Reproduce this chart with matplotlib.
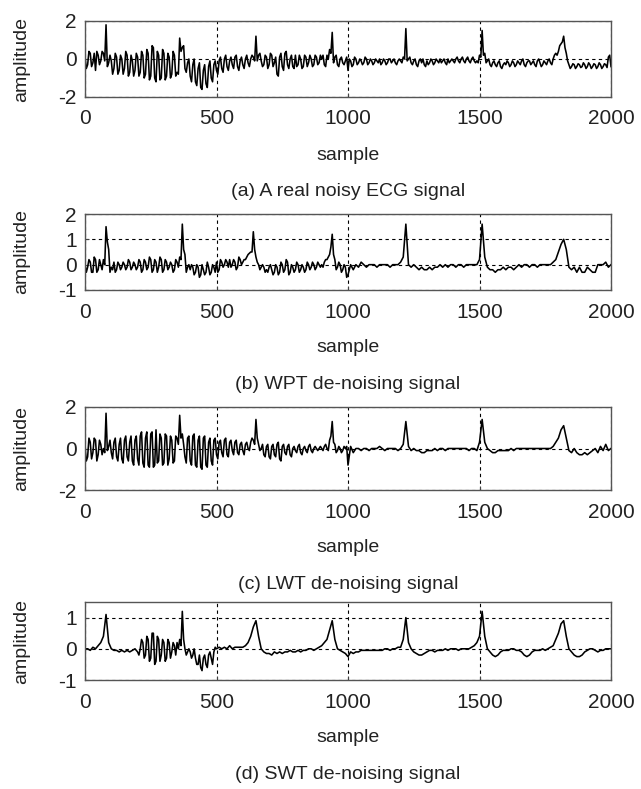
import numpy as np
import matplotlib
matplotlib.use("Agg")
import matplotlib.pyplot as plt

plt.rcParams["font.family"] = ["Liberation Sans", "DejaVu Sans"]
plt.rcParams["axes.unicode_minus"] = False

# ---------------------------------------------------------
# Signals: one value every 10 samples,
# plus in-between values (offset by 5) where the trace is busy
# ---------------------------------------------------------

sample = np.arange(0, 2001, 10)

noisy_ecg = [
    0.1, -0.3, 0.3, -0.2, -0.6, 0.2, -0.1, 0.3, 1.8, -0.2,
    -0.1, -0.5, 0.1, -0.6, 0.0, -0.5, 0.2, -0.7, -0.1, -0.6,
    0.1, -0.7, 0.2, -0.8, 0.3, -0.9, 0.6, -1.2, 0.2, -1.0,
    0.3, -0.9, 0.1, -0.8, 0.2, -0.7, 1.1, 0.6, -0.5, -0.2,
    -0.9, -0.3, -1.2, -0.5, -1.5, -0.6, -1.3, -0.4, -1.0, -0.3,
    -0.6, -0.1, -0.5, 0.0, -0.4, -0.1, -0.3, 0.1, -0.4, -0.1,
    -0.3, 0.0, -0.2, 0.0, 0.1, 1.2, 0.2, -0.1, -0.3, 0.1,
    -0.3, 0.2, -0.2, -0.8, 0.1, -0.4, 0.3, -0.3, 0.0, -0.4,
    0.2, -0.3, 0.0, -0.4, 0.1, -0.2, 0.0, -0.3, 0.1, -0.2,
    0.0, -0.3, 0.2, 0.5, 1.4, 0.1, -0.3, 0.0, -0.2, -0.1,
    -0.6, -0.1, -0.3, 0.0, -0.2, -0.1, -0.2, 0.0, -0.2, -0.1,
    -0.2, -0.1, 0.0, -0.2, -0.1, -0.2, 0.0, -0.1, -0.2, -0.1,
    -0.1, 0.1, 1.6, 0.0, -0.2, -0.1, -0.3, -0.1, -0.2, -0.3,
    -0.1, -0.2, -0.1, -0.2, -0.1, 0.0, -0.1, -0.2, 0.0, -0.1,
    -0.1, 0.0, -0.1, 0.0, -0.1, 0.0, -0.1, 0.0, -0.1, -0.1,
    0.2, 1.5, 0.3, -0.1, -0.3, -0.2, -0.3, -0.2, -0.4, -0.3,
    -0.3, -0.2, -0.3, -0.2, -0.3, -0.2, -0.1, -0.3, -0.2, -0.1,
    -0.2, -0.3, -0.1, -0.2, -0.3, -0.2, -0.1, -0.2, 0.0, 0.3,
    0.4, 0.8, 1.2, 0.3, -0.3, -0.4, -0.3, -0.4, -0.3, -0.4,
    -0.3, -0.4, -0.3, -0.4, -0.3, -0.4, -0.3, -0.4, -0.3, 0.1,
    -0.4,
]
noisy_ecg_mid = [  # samples 5, 15, ..., 1995
    -0.5, 0.4, -0.4, 0.3, 0.4, -0.3, 0.4, -0.1, -0.4, 0.2,
    -0.8, 0.3, -0.8, 0.2, -0.8, 0.4, -0.9, 0.2, -0.9, 0.3,
    -0.9, 0.4, -1.0, 0.5, -1.1, 0.7, -1.0, 0.4, -1.1, 0.5,
    -1.1, 0.3, -1.0, 0.4, -0.9, -0.8, 0.4, 0.7, -0.7, 0.0,
    -1.2, 0.0, -1.4, -0.2, -1.6, -0.3, -1.5, -0.1, -1.2, -0.1,
    -0.8, 0.1, -0.7, 0.2, -0.6, 0.1, -0.5, 0.2, -0.6, 0.1,
    -0.5, 0.2, -0.4, 0.2, -0.1, -0.1, 0.3, -0.4, 0.2, -0.5,
    0.3, -0.4, 0.1, -0.9, 0.3, -0.6, 0.4, -0.5, 0.2, -0.5,
    -0.4, 0.2, -0.5, 0.2, -0.4, 0.2, -0.4, 0.2, -0.3, 0.2,
    0.2, -0.4, 0.0, 0.3, -0.2, 0.2, -0.4, 0.1, -0.3, 0.1,
    0.0, -0.4, 0.1, -0.3, 0.0, -0.3, 0.1, -0.3, 0.0, -0.3,
    0.0, -0.2, -0.3, 0.0, -0.3, 0.0, -0.2, 0.0, -0.3, 0.0,
    -0.2, 0.0, -0.1, 0.1, -0.3, 0.0, -0.4, 0.0, 0.0, -0.4,
    -0.3, 0.0, -0.3, 0.0, -0.2, -0.2, 0.0, -0.3, -0.2, 0.0,
    -0.2, 0.1, -0.2, 0.1, -0.2, 0.1, -0.2, 0.1, -0.2, -0.2,
    0.1, 0.2, -0.2, 0.0, -0.4, -0.1, -0.4, -0.1, -0.5, -0.2,
    -0.1, -0.4, -0.1, -0.4, -0.1, -0.3, 0.0, -0.4, -0.1, -0.3,
    -0.1, -0.4, 0.0, -0.4, -0.1, -0.3, 0.0, -0.3, 0.2, 0.2,
    0.7, 0.9, 0.6, -0.1, -0.5, -0.25, -0.5, -0.25, -0.45, -0.2,
    -0.5, -0.2, -0.5, -0.25, -0.5, -0.2, -0.5, -0.25, -0.45, 0.2,
]

wpt_signal = [
    0.0, -0.1, 0.1, -0.3, 0.2, -0.2, 0.0, 0.2, 1.5, 0.6,
    -0.1, 0.1, -0.2, 0.0, -0.1, 0.0, -0.1, 0.1, -0.1, 0.0,
    -0.1, 0.1, -0.2, 0.1, -0.1, 0.2, -0.2, 0.1, -0.1, 0.2,
    -0.2, 0.1, -0.1, 0.0, -0.2, 0.1, 0.3, 1.6, 0.4, -0.1,
    -0.2, -0.1, -0.3, -0.1, -0.4, -0.2, -0.3, -0.1, -0.3, -0.1,
    0.1, -0.2, 0.1, 0.0, 0.1, 0.2, 0.0, 0.1, -0.1, 0.2,
    0.1, 0.2, 0.4, 0.5, 1.3, 0.3, 0.0, -0.1, -0.1, -0.2,
    -0.1, -0.2, -0.3, -0.1, -0.3, 0.0, -0.2, 0.1, -0.3, -0.1,
    -0.2, 0.0, -0.2, -0.1, -0.2, 0.0, -0.1, 0.0, -0.1, 0.0,
    0.0, 0.1, 0.2, 0.4, 1.2, 0.2, -0.1, 0.0, -0.2, -0.1,
    -0.4, 0.0, -0.2, 0.0, -0.1, 0.1, 0.0, -0.1, 0.0, 0.0,
    0.0, -0.1, 0.0, 0.0, 0.0, 0.0, -0.1, 0.0, 0.0, 0.0,
    0.1, 0.3, 1.6, 0.0, -0.1, 0.0, -0.1, -0.2, -0.1, -0.2,
    -0.2, -0.1, -0.2, -0.1, -0.1, 0.0, -0.1, 0.0, -0.1, 0.0,
    0.0, -0.1, 0.0, 0.0, -0.1, 0.0, 0.0, 0.0, 0.0, 0.0,
    0.2, 1.6, 0.3, -0.1, -0.2, -0.2, -0.3, -0.2, -0.2, -0.1,
    -0.2, -0.1, -0.1, -0.2, -0.1, 0.0, -0.1, 0.0, 0.0, -0.1,
    0.0, 0.0, -0.1, 0.0, 0.0, 0.0, 0.0, 0.0, 0.1, 0.2,
    0.5, 0.8, 1.0, 0.6, -0.1, -0.2, -0.1, -0.3, -0.1, -0.3,
    -0.3, -0.1, -0.2, -0.3, -0.3, 0.0, 0.0, 0.0, 0.1, -0.1,
    0.0,
]
wpt_signal_mid = [  # samples 5, 15, ..., 995
    -0.3, 0.2, -0.3, 0.3, -0.3, 0.2, -0.2, 0.0, 0.9, -0.3,
    -0.2, -0.3, 0.1, -0.2, 0.1, -0.2, 0.2, -0.2, 0.1, -0.2,
    0.2, -0.3, 0.2, -0.2, 0.3, -0.3, 0.2, -0.3, 0.3, -0.3,
    0.2, -0.2, 0.1, -0.3, 0.2, -0.1, 0.2, 0.6, -0.3, 0.0,
    0.0, -0.4, 0.0, -0.5, 0.0, -0.4, 0.1, -0.4, 0.0, -0.3,
    -0.3, 0.2, -0.1, 0.2, -0.1, -0.1, 0.2, -0.2, 0.3, 0.0,
    0.2, 0.3, 0.45, 0.5, 0.6, 0.1, -0.2, 0.0, -0.3, -0.3,
    0.0, -0.4, 0.0, -0.4, 0.1, -0.3, 0.2, -0.4, 0.0, -0.3,
    0.1, -0.3, 0.0, -0.3, 0.1, -0.2, 0.1, -0.2, 0.1, -0.1,
    -0.1, 0.2, 0.3, 0.7, 0.4, -0.2, 0.1, -0.3, 0.0, -0.5,
]

lwt_signal = [
    0.1, -0.4, 0.3, -0.2, 0.4, -0.3, 0.2, 0.0, 1.7, 0.1,
    -0.2, 0.3, -0.4, 0.2, -0.5, 0.4, -0.4, 0.3, -0.6, 0.4,
    -0.5, 0.6, -0.7, 0.5, -0.8, 0.7, -0.9, 0.9, -0.6, 0.5,
    -0.7, 0.6, -0.5, 0.4, -0.6, 0.5, 1.6, 0.7, -0.4, 0.5,
    -0.6, 0.6, -0.8, 0.4, -0.9, 0.5, -0.8, 0.3, -0.6, 0.4,
    -0.3, 0.3, -0.2, 0.4, -0.3, 0.3, -0.1, 0.3, -0.2, 0.2,
    -0.1, 0.2, 0.0, 0.3, 0.4, 1.4, 0.2, 0.0, -0.3, 0.1,
    -0.4, 0.1, -0.3, 0.2, -0.5, 0.1, -0.2, 0.1, -0.3, 0.0,
    -0.1, 0.1, -0.2, 0.0, -0.1, 0.1, -0.1, 0.0, 0.0, 0.0,
    0.0, 0.1, 0.0, 0.4, 1.3, 0.2, -0.1, 0.0, -0.1, 0.0,
    -0.8, 0.1, -0.2, 0.0, 0.0, -0.1, 0.0, 0.0, -0.1, 0.0,
    0.0, 0.0, 0.1, 0.0, -0.1, 0.0, 0.0, 0.0, 0.0, -0.1,
    0.0, 0.2, 1.3, 0.1, -0.1, 0.0, -0.1, -0.1, -0.2, -0.2,
    -0.1, -0.1, -0.1, 0.0, -0.1, 0.0, 0.0, -0.1, 0.0, 0.0,
    0.0, 0.0, 0.0, 0.0, 0.0, 0.0, -0.1, 0.0, 0.0, -0.1,
    0.3, 1.4, 0.3, 0.0, -0.1, -0.2, -0.2, -0.1, -0.1, -0.1,
    -0.1, -0.1, 0.0, -0.1, 0.0, 0.0, 0.0, 0.0, 0.0, 0.0,
    0.0, 0.0, 0.0, 0.0, 0.0, 0.0, 0.0, 0.0, 0.1, 0.3,
    0.5, 0.9, 1.1, 0.5, -0.1, -0.2, 0.0, -0.2, -0.3, -0.3,
    -0.2, -0.3, -0.2, -0.1, 0.0, -0.2, 0.1, -0.1, 0.2, -0.1,
    0.0,
]
lwt_signal_mid = [  # samples 5, 15, ..., 995
    -0.6, 0.5, -0.5, 0.5, -0.6, 0.4, -0.3, -0.2, -0.1, 0.4,
    -0.5, 0.5, -0.6, 0.5, -0.7, 0.6, -0.6, 0.6, -0.8, 0.6,
    -0.8, 0.8, -0.9, 0.8, -0.9, 0.8, -0.8, -0.7, 0.7, -0.8,
    0.7, -0.8, 0.6, -0.7, 0.6, 0.2, 0.5, 0.2, -0.7, 0.6,
    -0.8, 0.7, -0.9, 0.6, -1.0, 0.6, -0.9, 0.5, -0.8, 0.5,
    -0.5, 0.4, -0.4, 0.5, -0.4, 0.4, -0.3, 0.4, -0.3, 0.3,
    -0.3, 0.3, -0.1, 0.5, 0.2, 0.5, -0.1, 0.2, -0.4, 0.2,
    -0.5, 0.2, -0.4, 0.3, -0.6, 0.2, -0.3, 0.2, -0.4, 0.1,
    -0.2, 0.2, -0.3, 0.1, -0.2, 0.2, -0.2, 0.1, -0.1, 0.1,
    -0.1, 0.2, -0.1, 0.6, 0.3, -0.2, 0.1, -0.2, 0.1, 0.1,
]

swt_signal = [
    0.0, 0.0, -0.05, 0.05, 0.0, 0.1, 0.2, 0.4, 1.1, 0.2,
    0.0, -0.05, -0.05, -0.1, -0.05, -0.1, -0.05, -0.1, -0.05, 0.0,
    -0.1, 0.0, 0.2, -0.2, 0.3, -0.3, 0.5, -0.4, 0.3, -0.2,
    0.2, -0.3, 0.2, -0.1, 0.1, 0.2, 0.3, 1.2, 0.0, -0.1,
    -0.1, -0.2, -0.3, -0.5, -0.6, -0.3, -0.5, -0.2, -0.3, -0.1,
    0.0, 0.05, 0.0, 0.05, 0.0, 0.1, 0.0, 0.05, 0.05, 0.05,
    0.05, 0.1, 0.2, 0.4, 0.7, 0.9, 0.4, 0.0, -0.1, -0.15,
    -0.15, -0.2, -0.1, -0.15, -0.1, -0.15, -0.1, -0.1, -0.05, -0.1,
    -0.1, -0.05, -0.1, -0.05, -0.05, 0.0, 0.0, -0.05, 0.0, 0.05,
    0.1, 0.2, 0.3, 0.6, 0.9, 0.3, 0.0, -0.05, -0.1, -0.15,
    -0.25, -0.1, -0.15, -0.1, -0.1, -0.05, -0.05, -0.05, -0.05, -0.05,
    -0.05, -0.05, -0.05, -0.05, 0.0, 0.0, -0.05, 0.0, 0.0, 0.05,
    0.05, 0.3, 1.0, 0.2, 0.0, -0.1, -0.15, -0.2, -0.2, -0.15,
    -0.1, -0.05, -0.05, -0.1, -0.05, -0.05, -0.05, 0.0, -0.05, 0.0,
    0.0, 0.0, -0.05, 0.0, 0.0, 0.0, 0.0, 0.05, 0.1, 0.2,
    0.4, 1.2, 0.4, 0.0, -0.1, -0.2, -0.25, -0.2, -0.1, -0.05,
    -0.05, -0.05, 0.0, 0.0, -0.05, -0.05, -0.1, -0.2, -0.25, -0.2,
    -0.1, -0.05, -0.05, -0.05, 0.0, -0.05, 0.0, 0.05, 0.1, 0.3,
    0.5, 0.8, 0.9, 0.4, 0.0, -0.1, -0.2, -0.25, -0.25, -0.2,
    -0.1, -0.05, 0.0, 0.0, -0.05, -0.1, -0.05, -0.05, 0.0, 0.0,
    0.0,
]
swt_signal_mid = [  # samples 205, 215, ..., 495
    -0.2, 0.3, -0.3, 0.4, -0.4, 0.5, -0.5, 0.4, -0.4, 0.3,
    -0.4, 0.3, -0.3, 0.2, -0.2, 0.0, 0.1, 0.3, -0.2, 0.0,
    -0.3, 0.0, -0.5, -0.2, -0.7, -0.2, -0.6, -0.1, -0.5, 0.05,
]

mid_samples = [
    np.arange(5, 2000, 10),
    np.arange(5, 1000, 10),
    np.arange(5, 1000, 10),
    np.arange(205, 500, 10),
]

captions = [
    "(a) A real noisy ECG signal",
    "(b) WPT de-noising signal",
    "(c) LWT de-noising signal",
    "(d) SWT de-noising signal",
]
y_limits = [(-2, 2), (-1, 2), (-2, 2), (-1, 1.5)]
y_ticks = [[-2, 0, 2], [-1, 0, 1, 2], [-2, 0, 2], [-1, 0, 1]]
x_ticks = [0, 500, 1000, 1500, 2000]

# axes boxes in pixels: (top, bottom) of each panel
boxes = [(21, 97), (214, 290), (407, 490), (602, 680)]

W, H = 641, 789
fig = plt.figure(figsize=(W / 100, H / 100), dpi=100)

signals = [
    (noisy_ecg, noisy_ecg_mid),
    (wpt_signal, wpt_signal_mid),
    (lwt_signal, lwt_signal_mid),
    (swt_signal, swt_signal_mid),
]
text_color = "#222222"

for (sig, mid), xm, cap, ylim, yt, (top, bot) in zip(
        signals, mid_samples, captions, y_limits, y_ticks, boxes):

    x = np.concatenate([sample, xm])
    y = np.concatenate([sig, mid])
    order = np.argsort(x)

    ax = fig.add_axes([85 / W, 1 - bot / H, 526 / W, (bot - top) / H])
    ax.plot(x[order], y[order], color="black", linewidth=1.15)

    ax.set_xlim(0, 2000)
    ax.set_ylim(*ylim)
    ax.set_xticks(x_ticks)
    ax.set_yticks(yt)
    ax.tick_params(direction="in", length=3, labelsize=15,
                   colors="#444444", labelcolor=text_color)
    ax.tick_params(axis="x", pad=9)
    ax.tick_params(axis="y", pad=6)
    for sp in ax.spines.values():
        sp.set_color("#555555")
        sp.set_linewidth(1.0)

    ax.grid(True, color="black", linestyle=(0, (3, 3)), linewidth=0.8)

    ax.annotate("sample", xy=(0.5, 0), xycoords="axes fraction",
                xytext=(0, -45), textcoords="offset points",
                ha="center", va="baseline", fontsize=14, color=text_color)
    ax.annotate(cap, xy=(0.5, 0), xycoords="axes fraction",
                xytext=(0, -71), textcoords="offset points",
                ha="center", va="baseline", fontsize=14, color=text_color)
    ax.text(-63 / 526, 0.5, "amplitude", transform=ax.transAxes,
            rotation=90, ha="center", va="center", fontsize=14,
            color=text_color)

fig.savefig("out.png", dpi=100)
